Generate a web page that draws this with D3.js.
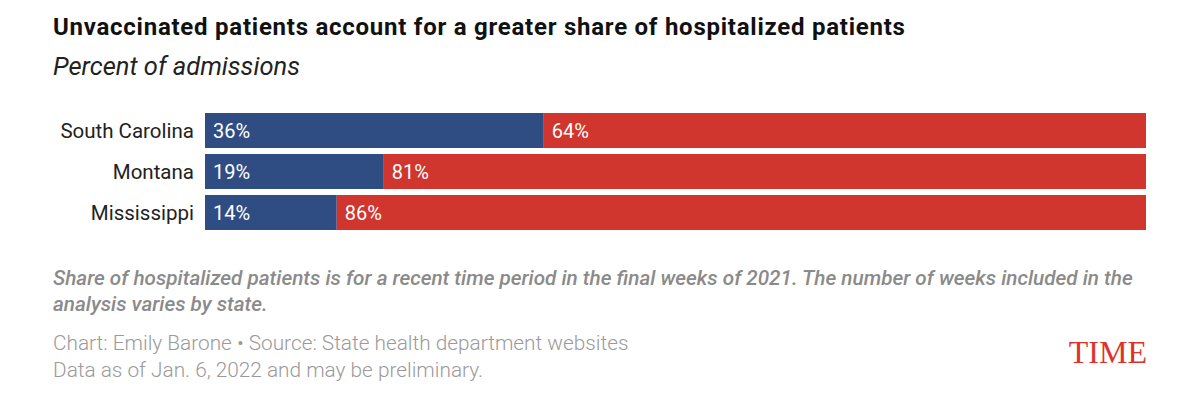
<!DOCTYPE html>
<html>
<head>
<meta charset="utf-8">
<script src="https://cdn.jsdelivr.net/npm/d3@7"></script>
<style>
  body { margin: 0; background: #fff; }
  svg { display: block; font-family: Roboto, "Noto Sans", sans-serif; }
</style>
</head>
<body>
<script>
// chart data
const states = ["South Carolina", "Montana", "Mississippi"];
const vaccinated = [36, 19, 14];
const unvaccinated = [64, 81, 86];

const colors = { vax: "#2f4d83", unvax: "#d0352e" };

const width = 1200, height = 394;
const margin = { left: 205, right: 54, top: 113 };

const svg = d3.select("body").append("svg")
  .attr("width", width)
  .attr("height", height);

// title + subtitle
svg.append("text")
  .attr("x", 53).attr("y", 35)
  .attr("font-size", 24).attr("font-weight", 700)
  .attr("letter-spacing", 0.75)
  .attr("fill", "#111")
  .text("Unvaccinated patients account for a greater share of hospitalized patients");

svg.append("text")
  .attr("x", 53).attr("y", 75)
  .attr("font-size", 25.5).attr("font-style", "italic")
  .attr("fill", "#222")
  .text("Percent of admissions");

// scales
let x = d3.scaleLinear().domain([0, 100]).range([margin.left, width - margin.right]);
let y = d3.scaleBand().domain(states).range([margin.top, margin.top + 117]).paddingInner(0.146).paddingOuter(0);

let rows = svg.append("g").selectAll("g")
  .data(states.map((s, i) => ({ state: s, vax: vaccinated[i], unvax: unvaccinated[i] })))
  .enter().append("g");

rows.append("rect")
  .attr("x", x(0))
  .attr("y", d => y(d.state))
  .attr("width", d => x(d.vax) - x(0))
  .attr("height", y.bandwidth())
  .attr("fill", colors.vax);

rows.append("rect")
  .attr("x", d => x(d.vax))
  .attr("y", d => y(d.state))
  .attr("width", d => x(d.vax + d.unvax) - x(d.vax))
  .attr("height", y.bandwidth())
  .attr("fill", colors.unvax);

rows.append("text")
  .attr("x", x(0) + 8)
  .attr("y", d => y(d.state) + y.bandwidth() / 2)
  .attr("dy", "0.36em")
  .attr("font-size", 20).attr("fill", "#fff")
  .text(d => d.vax + "%");

rows.append("text")
  .attr("x", d => x(d.vax) + 8)
  .attr("y", d => y(d.state) + y.bandwidth() / 2)
  .attr("dy", "0.36em")
  .attr("font-size", 20).attr("fill", "#fff")
  .text(d => d.unvax + "%");

// state labels
rows.append("text")
  .attr("x", x(0) - 11)
  .attr("y", d => y(d.state) + y.bandwidth() / 2)
  .attr("dy", "0.36em")
  .attr("text-anchor", "end")
  .attr("font-size", 20.5).attr("fill", "#222")
  .text(d => d.state);

// notes
const notes = [
  "Share of hospitalized patients is for a recent time period in the final weeks of 2021. The number of weeks included in the",
  "analysis varies by state."
];
svg.append("g").selectAll("text").data(notes).enter().append("text")
  .attr("x", 53).attr("y", (d, i) => 285 + i * 26)
  .attr("font-size", 20.7).attr("font-style", "italic").attr("font-weight", 500)
  .attr("fill", "#8a8a8a")
  .text(d => d);

const credits = [
  "Chart: Emily Barone \u2022 Source: State health department websites",
  "Data as of Jan. 6, 2022 and may be preliminary."
];
svg.append("g").selectAll("text").data(credits).enter().append("text")
  .attr("x", 53).attr("y", (d, i) => 350 + i * 27)
  .attr("font-size", 20.8).attr("font-weight", 300)
  .attr("fill", "#9a9a9a")
  .text(d => d);

// TIME logo
svg.append("text")
  .attr("x", 1147).attr("y", 363)
  .attr("text-anchor", "end")
  .attr("font-family", "'Liberation Serif', 'DejaVu Serif', serif")
  .attr("font-size", 32)
  .attr("fill", "#e0312b")
  .text("TIME");
</script>
</body>
</html>
